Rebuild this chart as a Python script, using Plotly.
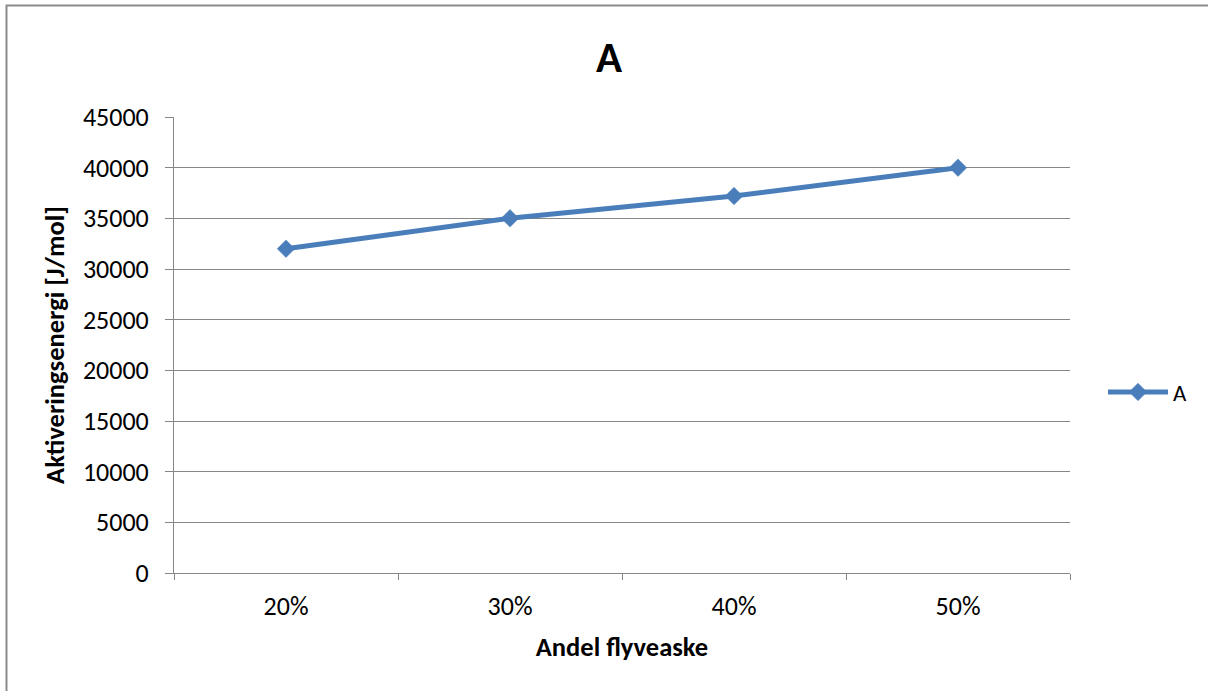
import plotly.graph_objects as go

# Data
categories = ["20%", "30%", "40%", "50%"]
values_a = [32000, 35000, 37200, 40000]
y_ticks = [0, 5000, 10000, 15000, 20000, 25000, 30000, 35000, 40000, 45000]
y_tick_text = [str(v) for v in y_ticks]

W, H = 1208, 691
L, R, T, B = 174, 138, 117, 118
pw, ph = W - L - R, H - T - B

def px_x(p):
    return (p - L) / pw

def px_y(p):
    return (H - B - p) / ph

font_family = "Carlito, Calibri, Lato, sans-serif"
grey = "#868686"
blue = "#4A7EBB"

fig = go.Figure()
fig.add_trace(go.Scatter(
    x=categories, y=values_a, name="A", mode="lines+markers",
    line=dict(color=blue, width=5),
    marker=dict(symbol="diamond", size=13.5, color=blue,
                line=dict(color=blue, width=0.5)),
))

fig.update_layout(
    width=W, height=H,
    margin=dict(l=L, r=R, t=T, b=B),
    paper_bgcolor="white", plot_bgcolor="white",
    font=dict(family=font_family, size=26, color="black"),
    title=dict(text="<b>A</b>", x=px_x(609), xref="paper", xanchor="center",
               y=1 - 57 / H, yanchor="middle",
               font=dict(size=43, family=font_family)),
    showlegend=True,
    legend=dict(x=px_x(1103), y=px_y(392), xanchor="left", yanchor="middle",
                font=dict(size=23), bgcolor="rgba(0,0,0,0)",
                itemwidth=60),
    xaxis=dict(
        type="category", range=[-0.5, 3.5],
        showline=True, linecolor=grey, linewidth=1,
        showgrid=False, ticks="outside", ticklen=6, tickcolor=grey,
        tickson="boundaries", ticklabelstandoff=10,
        tickfont=dict(size=26),
        title=dict(text="<b>Andel flyveaske</b>", font=dict(size=26.5), standoff=16),
        fixedrange=True,
    ),
    yaxis=dict(
        range=[0, 45000], tickvals=y_ticks, ticktext=y_tick_text,
        showline=True, linecolor=grey, linewidth=1,
        showgrid=True, gridcolor=grey, gridwidth=1,
        zeroline=False,
        ticks="outside", ticklen=8, tickcolor=grey,
        ticklabelstandoff=11,
        tickfont=dict(size=26),
        title=dict(text="<b>Aktiveringsenergi [J/mol]</b>", font=dict(size=26.5), standoff=10),
        fixedrange=True,
    ),
)

# Chart-area border (right and bottom edges run past the page)
fig.add_shape(type="rect", xref="paper", yref="paper",
              x0=px_x(6.5), x1=px_x(1215), y0=px_y(700), y1=px_y(5.5),
              line=dict(color="#8C8C8C", width=2), fillcolor="rgba(0,0,0,0)",
              layer="below")

fig.write_html("out.html")
